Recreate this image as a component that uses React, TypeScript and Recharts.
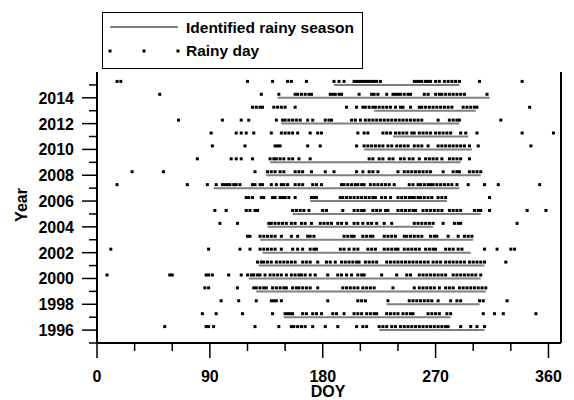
import React from 'react';
import {
  ScatterChart,
  Scatter,
  XAxis,
  YAxis,
  ReferenceLine,
  Legend,
} from 'recharts';

const FONT = '"Liberation Sans", Arial, sans-serif';
const GRAY = '#808080';

const years = [
  1996, 1997, 1998, 1999, 2000, 2001, 2002, 2003, 2004, 2005,
  2006, 2007, 2008, 2009, 2010, 2011, 2012, 2013, 2014, 2015,
];

// identified rainy season (onset / end DOY), same order as years
const seasonStart = [225, 149, 231, 127, 121, 129, 132, 130, 136, 156, 170, 93, 135, 138, 213, 236, 147, 221, 144, 189];
const seasonEnd = [309, 282, 305, 310, 306, 309, 298, 300, 268, 306, 279, 289, 306, 290, 299, 296, 289, 302, 313, 289];

// rainy days (DOY) for each year, same order as years
const rainyDays: number[][] = [
  [54, 87, 89, 93, 126, 145, 155, 157, 160, 163, 166, 172, 182, 192, 207, 212, 215, 225, 228, 231, 235, 238, 242, 245, 248, 251, 254, 257, 260, 263, 266, 269, 272, 275, 278, 280, 290, 298, 303, 309],
  [84, 95, 116, 140, 150, 152, 154, 156, 164, 167, 172, 175, 179, 188, 191, 197, 205, 208, 211, 215, 218, 221, 223, 231, 234, 237, 240, 244, 247, 250, 252, 264, 267, 270, 273, 279, 282, 308, 317, 324, 350],
  [99, 113, 127, 139, 141, 143, 147, 184, 208, 211, 214, 232, 249, 252, 255, 258, 261, 264, 267, 272, 282, 287, 290, 305, 308, 327],
  [86, 89, 112, 125, 127, 130, 133, 135, 140, 143, 146, 149, 151, 156, 159, 161, 164, 167, 170, 176, 196, 199, 202, 205, 208, 212, 215, 218, 221, 236, 253, 257, 260, 263, 266, 269, 273, 278, 281, 284, 289, 292, 295, 298, 301, 304, 307, 310],
  [8, 58, 60, 87, 89, 92, 105, 115, 120, 123, 125, 128, 130, 134, 138, 141, 144, 147, 151, 155, 158, 161, 163, 166, 170, 174, 184, 192, 195, 199, 203, 208, 211, 213, 227, 239, 247, 250, 257, 260, 263, 266, 269, 272, 275, 278, 284, 287, 290, 293, 296, 299, 302, 306],
  [128, 131, 133, 136, 139, 143, 146, 149, 152, 155, 158, 164, 167, 170, 176, 183, 186, 190, 195, 198, 201, 204, 207, 209, 214, 217, 220, 223, 231, 234, 237, 240, 243, 246, 249, 252, 255, 258, 261, 264, 268, 271, 274, 278, 281, 284, 287, 290, 293, 297, 300, 303, 306, 309, 326],
  [11, 89, 114, 122, 130, 133, 136, 139, 142, 147, 156, 160, 164, 170, 173, 175, 194, 197, 201, 205, 208, 216, 219, 222, 229, 232, 235, 238, 240, 245, 248, 251, 254, 257, 262, 265, 268, 270, 278, 281, 284, 288, 291, 309, 319, 330, 333],
  [120, 122, 130, 133, 136, 139, 142, 147, 155, 160, 168, 170, 173, 197, 200, 203, 205, 212, 215, 218, 220, 229, 232, 235, 238, 245, 247, 250, 253, 256, 259, 266, 269, 271, 280, 288, 293, 296, 299],
  [98, 112, 137, 139, 142, 145, 148, 151, 155, 158, 163, 166, 171, 178, 181, 184, 187, 192, 195, 199, 205, 208, 212, 216, 219, 223, 229, 235, 253, 256, 259, 262, 265, 268, 276, 285, 288, 290, 335],
  [94, 103, 119, 122, 126, 128, 156, 159, 162, 165, 169, 180, 183, 196, 205, 208, 211, 213, 220, 223, 226, 230, 232, 240, 243, 246, 249, 252, 254, 260, 263, 266, 269, 272, 275, 281, 284, 287, 290, 301, 304, 306, 313, 343, 358],
  [119, 121, 124, 131, 133, 140, 142, 146, 148, 150, 153, 158, 171, 173, 175, 194, 196, 199, 202, 205, 208, 211, 214, 217, 220, 222, 227, 230, 234, 240, 243, 246, 249, 251, 253, 256, 258, 261, 264, 267, 272, 275, 278, 313],
  [16, 72, 88, 95, 100, 102, 104, 106, 109, 111, 114, 124, 126, 130, 132, 139, 143, 147, 149, 152, 158, 161, 164, 172, 175, 179, 195, 197, 200, 203, 206, 208, 211, 213, 218, 221, 224, 227, 230, 233, 237, 249, 252, 256, 258, 261, 264, 266, 268, 271, 274, 277, 280, 283, 287, 296, 309, 320, 353],
  [28, 53, 126, 136, 139, 142, 146, 149, 158, 161, 164, 171, 182, 189, 207, 212, 217, 220, 224, 240, 245, 248, 251, 254, 257, 260, 263, 266, 276, 284, 287, 289, 297, 300, 303, 306],
  [80, 107, 111, 115, 124, 138, 141, 143, 146, 149, 153, 156, 161, 170, 217, 220, 225, 228, 233, 236, 242, 245, 249, 252, 257, 262, 265, 268, 271, 275, 281, 284, 287, 290, 297],
  [92, 118, 142, 144, 146, 168, 178, 207, 213, 216, 219, 222, 225, 228, 232, 235, 239, 242, 245, 248, 253, 256, 259, 264, 272, 275, 278, 281, 284, 287, 290, 293, 297, 304, 346],
  [91, 111, 115, 119, 125, 139, 147, 150, 153, 156, 160, 170, 176, 179, 208, 213, 216, 228, 231, 234, 238, 241, 244, 247, 251, 253, 257, 260, 263, 266, 270, 273, 276, 279, 282, 290, 294, 303, 339, 364],
  [65, 100, 115, 121, 143, 148, 150, 153, 156, 159, 162, 168, 172, 182, 185, 187, 203, 206, 210, 214, 217, 220, 223, 226, 229, 232, 235, 238, 241, 244, 247, 250, 253, 256, 259, 272, 281, 284, 287, 289, 322],
  [124, 127, 130, 132, 141, 144, 147, 150, 158, 199, 207, 212, 214, 217, 220, 222, 225, 228, 231, 234, 238, 242, 244, 250, 257, 259, 262, 265, 268, 271, 274, 277, 280, 283, 292, 295, 298, 301, 303, 345],
  [50, 131, 145, 158, 160, 163, 166, 169, 171, 186, 188, 190, 193, 195, 209, 219, 221, 224, 231, 236, 238, 240, 242, 245, 248, 250, 261, 264, 270, 273, 275, 278, 281, 284, 287, 290, 293, 311],
  [16, 19, 120, 140, 152, 155, 167, 189, 193, 197, 205, 207, 209, 211, 213, 215, 217, 219, 221, 223, 226, 253, 255, 257, 259, 262, 264, 266, 270, 273, 277, 280, 283, 286, 289, 305, 339],
];

const xTicks = [0, 30, 60, 90, 120, 150, 180, 210, 240, 270, 300, 330, 360];
const yTicks = [
  1995, 1996, 1997, 1998, 1999, 2000, 2001, 2002, 2003, 2004, 2005,
  2006, 2007, 2008, 2009, 2010, 2011, 2012, 2013, 2014, 2015, 2016,
];
const yLabels = [1996, 1998, 2000, 2002, 2004, 2006, 2008, 2010, 2012, 2014];

const points = years.flatMap((year, i) =>
  rainyDays[i].map((doy) => ({ doy, year }))
);

const textStyle = { fontFamily: FONT, fontWeight: 700, fontSize: 16, fill: '#000' };
const legendText = { ...textStyle, fontSize: 15.5 };

const XTick = (props: any) => {
  const { x, y, payload } = props;
  const major = payload.value % 90 === 0;
  return (
    <g>
      <line x1={x} x2={x} y1={y} y2={y + (major ? 15 : 8)} stroke="#000" strokeWidth={1.5} />
      {major && (
        <text x={x} y={y + 39} textAnchor="middle" {...textStyle}>
          {payload.value}
        </text>
      )}
    </g>
  );
};

const YTickLeft = (props: any) => {
  const { x, y, payload } = props;
  if (payload.value === 2016) return <g />;
  const major = yLabels.includes(payload.value);
  return (
    <g>
      <line x1={x} x2={x - (major ? 15 : 8)} y1={y} y2={y} stroke="#000" strokeWidth={1.5} />
      {major && (
        <text x={x - 23} y={y + 6} textAnchor="end" {...textStyle}>
          {payload.value}
        </text>
      )}
    </g>
  );
};

const YTickRight = (props: any) => {
  const { x, y } = props;
  return <line x1={x} x2={x + 9} y1={y} y2={y} stroke="#000" strokeWidth={1.5} />;
};

const RainDot = (props: any) => {
  const { cx, cy } = props;
  return <rect x={cx - 1.5} y={cy - 5} width={3} height={3} fill="#000" />;
};

const LegendBox = () => (
  <div
    style={{
      width: 261,
      height: 57,
      border: '1px solid #000',
      boxSizing: 'border-box',
      background: '#fff',
      position: 'relative',
    }}
  >
    <svg width={259} height={55} style={{ position: 'absolute', left: 0, top: 0 }}>
      <line x1={7} x2={75} y1={14} y2={14} stroke={GRAY} strokeWidth={2} />
      <text x={83} y={20} {...legendText}>Identified rainy season</text>
      {[7, 41, 75].map((cx) => (
        <rect key={cx} x={cx - 1.5} y={36.5} width={3} height={3} fill="#000" />
      ))}
      <text x={83} y={43} {...legendText}>Rainy day</text>
    </svg>
  </div>
);

export default function App() {
  return (
    <ScatterChart
      width={566}
      height={392}
      margin={{ top: 64, right: 3, bottom: 7, left: 0 }}
    >
      <XAxis
        type="number"
        dataKey="doy"
        domain={[0, 370]}
        ticks={xTicks}
        interval={0}
        height={50}
        tickSize={0}
        tickMargin={0}
        tickLine={false}
        axisLine={{ stroke: '#000', strokeWidth: 2 }}
        tick={<XTick />}
        label={{
          content: () => (
            <text x={320} y={389} textAnchor="middle" {...textStyle}>DOY</text>
          ),
        }}
      />
      <YAxis
        yAxisId="left"
        type="number"
        dataKey="year"
        domain={[1995, 2016]}
        ticks={yTicks}
        interval={0}
        width={89}
        tickSize={0}
        tickMargin={0}
        tickLine={false}
        axisLine={{ stroke: '#000', strokeWidth: 2 }}
        tick={<YTickLeft />}
        label={{
          content: () => (
            <text transform="translate(19,197) rotate(-90)" textAnchor="middle" {...textStyle}>Year</text>
          ),
        }}
      />
      <YAxis
        yAxisId="right"
        orientation="right"
        type="number"
        domain={[1995, 2016]}
        ticks={yTicks}
        interval={0}
        width={10}
        tickSize={0}
        tickMargin={0}
        tickLine={false}
        axisLine={{ stroke: '#000', strokeWidth: 2 }}
        tick={<YTickRight />}
      />
      {years.map((year, i) => (
        <ReferenceLine
          key={year}
          yAxisId="left"
          segment={[
            { x: seasonStart[i], y: year },
            { x: seasonEnd[i], y: year },
          ]}
          stroke={GRAY}
          strokeWidth={2}
        />
      ))}
      <Scatter
        yAxisId="left"
        name="Rainy day"
        data={points}
        shape={<RainDot />}
        isAnimationActive={false}
      />
      <Legend
        layout="horizontal"
        verticalAlign="middle"
        align="center"
        content={() => <LegendBox />}
        wrapperStyle={{ left: 94, top: 4, width: 261, height: 57 }}
      />
    </ScatterChart>
  );
}
